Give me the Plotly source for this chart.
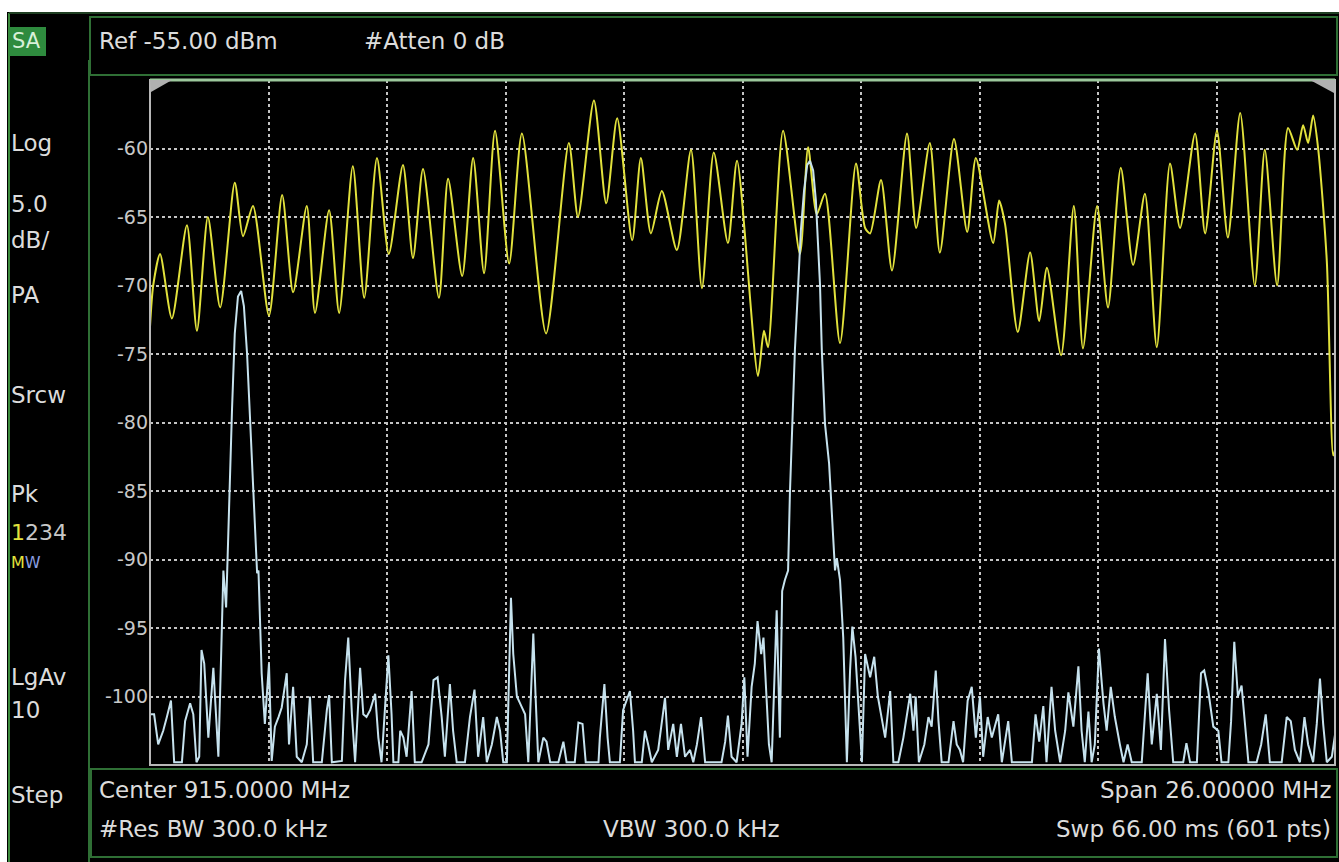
import plotly.graph_objects as go

# ---------------- data ----------------
# Trace 1 (yellow, max hold) : frequency in MHz, level in dBm
t1_freq = [902.00, 902.07, 902.22, 902.48, 902.81, 903.03, 903.27, 903.54, 903.86, 904.04,
           904.26, 904.61, 904.90, 905.14, 905.44, 905.62, 905.93, 906.15, 906.45, 906.70,
           906.98, 907.24, 907.55, 907.77, 907.99, 908.34, 908.54, 908.85, 909.09, 909.33,
           909.57, 909.88, 910.16, 910.69, 911.19, 911.39, 911.74, 912.01, 912.25, 912.58,
           912.77, 912.99, 913.23, 913.56, 913.87, 914.11, 914.37, 914.68, 914.88, 915.34,
           915.47, 915.56, 915.89, 916.26, 916.44, 916.63, 916.81, 917.14, 917.49, 917.69,
           917.80, 918.04, 918.28, 918.61, 918.81, 919.11, 919.33, 919.64, 919.93, 920.12,
           920.50, 920.63, 920.76, 921.04, 921.31, 921.51, 921.68, 921.99, 922.27, 922.47,
           922.78, 923.02, 923.30, 923.57, 923.83, 924.09, 924.38, 924.60, 924.93, 925.15,
           925.41, 925.65, 925.92, 926.24, 926.46, 926.73, 926.97, 927.17, 927.30, 927.41,
           927.52, 927.63, 927.82, 927.96, 928.00]
t1_dbm = [-73.0, -70.0, -67.7, -72.4, -65.6, -73.3, -65.0, -71.6, -62.5, -66.4,
          -64.2, -72.2, -63.4, -70.5, -64.2, -72.0, -64.5, -72.0, -61.3, -70.9,
          -60.7, -67.7, -61.2, -68.0, -61.5, -70.9, -62.2, -69.3, -60.7, -69.1,
          -58.7, -68.4, -58.9, -73.5, -59.6, -65.0, -56.5, -64.0, -57.8, -66.7,
          -60.7, -66.2, -63.1, -67.4, -60.1, -70.2, -60.3, -66.9, -60.9, -76.6,
          -73.3, -74.5, -58.7, -67.7, -59.9, -64.8, -63.3, -74.2, -61.1, -65.8,
          -66.2, -62.3, -68.9, -58.9, -65.8, -59.6, -67.6, -59.3, -66.1, -60.7,
          -66.9, -63.8, -65.5, -73.4, -67.6, -72.6, -68.7, -75.1, -64.2, -74.6,
          -64.2, -71.6, -61.4, -68.5, -63.3, -74.5, -61.1, -65.8, -58.9, -66.2,
          -58.7, -66.5, -57.4, -70.0, -60.1, -70.0, -58.5, -60.1, -58.3, -59.6,
          -57.6, -60.0, -68.2, -82.4, -82.0]

# Trace 2 (light blue, clear/write)
t2_freq = [902.00, 902.09, 902.18, 902.29, 902.37, 902.46, 902.53, 902.70, 902.77, 902.88,
           902.95, 903.02, 903.08, 903.13, 903.19, 903.28, 903.39, 903.46, 903.50, 903.56,
           903.61, 903.67, 903.73, 903.80, 903.86, 903.93, 904.00, 904.06, 904.13, 904.19,
           904.28, 904.35, 904.38, 904.45, 904.52, 904.61, 904.67, 904.74, 904.82, 904.89,
           905.00, 905.05, 905.14, 905.22, 905.33, 905.44, 905.51, 905.58, 905.77, 905.88,
           905.93, 905.99, 906.21, 906.28, 906.35, 906.43, 906.50, 906.61, 906.68, 906.75,
           906.83, 906.94, 907.01, 907.08, 907.23, 907.30, 907.34, 907.45, 907.49, 907.56,
           907.63, 907.74, 907.81, 907.96, 908.11, 908.22, 908.31, 908.40, 908.47, 908.58,
           908.65, 908.73, 908.91, 909.02, 909.12, 909.20, 909.31, 909.39, 909.50, 909.61,
           909.68, 909.75, 909.83, 909.92, 909.97, 910.05, 910.12, 910.23, 910.30, 910.41,
           910.46, 910.52, 910.63, 910.70, 910.78, 910.96, 911.07, 911.14, 911.32, 911.40,
           911.49, 911.56, 911.84, 911.87, 911.97, 912.04, 912.09, 912.31, 912.38, 912.53,
           912.60, 912.64, 912.79, 912.86, 912.93, 913.01, 913.15, 913.23, 913.30, 913.37,
           913.48, 913.56, 913.65, 913.74, 913.85, 913.92, 914.00, 914.09, 914.18, 914.54,
           914.62, 914.68, 914.76, 914.87, 914.98, 915.04, 915.11, 915.20, 915.27, 915.33,
           915.41, 915.46, 915.53, 915.58, 915.64, 915.70, 915.75, 915.82, 915.87, 915.93,
           916.00, 916.04, 916.09, 916.15, 916.22, 916.28, 916.35, 916.42, 916.48, 916.55,
           916.61, 916.66, 916.70, 916.74, 916.81, 916.90, 916.96, 917.03, 917.07, 917.14,
           917.21, 917.25, 917.29, 917.36, 917.41, 917.48, 917.54, 917.62, 917.69, 917.80,
           917.89, 917.97, 918.05, 918.13, 918.24, 918.31, 918.42, 918.53, 918.68, 918.75,
           918.80, 918.87, 918.99, 919.08, 919.15, 919.24, 919.30, 919.37, 919.52, 919.63,
           919.70, 919.77, 919.84, 919.94, 920.03, 920.12, 920.21, 920.28, 920.38, 920.47,
           920.61, 920.69, 920.83, 920.91, 921.35, 921.43, 921.51, 921.60, 921.67, 921.78,
           921.86, 921.97, 922.08, 922.15, 922.26, 922.37, 922.44, 922.51, 922.59, 922.66,
           922.73, 922.82, 922.92, 922.99, 923.08, 923.17, 923.28, 923.36, 923.45, 923.54,
           923.76, 923.83, 923.89, 923.98, 924.09, 924.18, 924.27, 924.36, 924.45, 924.67,
           924.74, 924.82, 924.97, 925.06, 925.13, 925.22, 925.33, 925.44, 925.51, 925.66,
           925.72, 925.79, 925.87, 925.95, 926.03, 926.10, 926.28, 926.38, 926.48, 926.57,
           926.83, 926.94, 927.03, 927.12, 927.23, 927.33, 927.41, 927.52, 927.60, 927.67,
           927.74, 927.82, 927.93, 928.00]
t2_dbm = [-101.3, -101.3, -103.5, -102.5, -101.5, -100.3, -104.8, -104.8, -101.8, -100.5,
          -101.3, -104.8, -104.4, -96.6, -97.6, -103.0, -97.9, -101.5, -104.4, -97.1,
          -90.8, -93.5, -86.0, -79.0, -73.5, -70.8, -70.4, -71.5, -75.0, -79.5,
          -86.0, -91.0, -90.8, -98.3, -102.0, -97.6, -104.7, -102.2, -101.5, -100.8,
          -98.3, -103.5, -99.3, -104.4, -104.8, -103.5, -100.0, -104.8, -104.8, -101.0,
          -99.9, -104.8, -104.7, -98.8, -95.7, -101.3, -104.8, -97.9, -101.3, -101.5,
          -101.0, -99.8, -103.0, -104.8, -97.0, -101.3, -104.8, -104.8, -102.5, -103.0,
          -104.4, -99.6, -104.8, -104.8, -103.5, -98.8, -98.6, -101.5, -104.4, -99.1,
          -102.5, -104.8, -104.8, -101.5, -99.5, -104.4, -101.5, -104.8, -103.5, -101.5,
          -102.5, -104.8, -104.8, -92.8, -96.9, -100.0, -100.5, -101.3, -104.8, -95.4,
          -100.0, -104.8, -103.0, -103.3, -104.8, -104.8, -103.3, -104.8, -104.8, -101.9,
          -102.0, -104.8, -104.8, -103.0, -99.1, -103.0, -104.8, -104.8, -101.0, -99.6,
          -102.5, -104.8, -104.8, -102.5, -103.5, -104.8, -103.9, -102.0, -100.1, -103.9,
          -102.0, -104.4, -102.0, -104.4, -103.9, -104.8, -103.5, -101.5, -104.8, -104.8,
          -103.3, -101.4, -104.4, -104.8, -102.0, -98.6, -104.4, -99.3, -97.6, -94.5,
          -96.9, -95.7, -100.0, -103.5, -104.8, -99.3, -93.7, -103.0, -92.3, -91.5,
          -90.8, -85.2, -80.1, -74.7, -70.1, -66.0, -63.1, -61.2, -60.9, -61.6,
          -63.8, -67.4, -69.9, -74.7, -80.1, -83.0, -86.4, -90.8, -89.9, -91.5,
          -95.7, -100.5, -104.8, -98.1, -94.9, -97.1, -100.5, -104.8, -96.9, -98.6,
          -97.1, -100.0, -101.5, -103.0, -99.6, -104.8, -104.8, -103.0, -99.8, -102.5,
          -100.0, -104.8, -103.5, -101.5, -102.2, -98.1, -101.8, -104.8, -104.8, -101.8,
          -103.5, -103.9, -104.8, -100.3, -99.3, -103.0, -100.0, -104.4, -101.5, -103.0,
          -101.3, -104.8, -101.8, -104.8, -104.8, -101.3, -103.3, -100.7, -104.8, -99.3,
          -102.5, -104.8, -102.5, -99.7, -102.2, -97.8, -102.5, -104.8, -101.1, -104.8,
          -103.5, -96.5, -100.5, -102.5, -99.3, -101.5, -103.5, -104.8, -103.5, -104.8,
          -104.8, -101.0, -98.3, -103.5, -99.8, -103.9, -95.8, -101.0, -104.8, -104.8,
          -103.4, -104.8, -104.8, -98.3, -98.1, -99.6, -102.2, -102.5, -104.8, -104.8,
          -101.8, -96.0, -100.0, -99.2, -102.5, -104.8, -104.8, -103.5, -101.3, -104.8,
          -104.8, -101.5, -101.8, -103.9, -104.8, -101.5, -103.5, -104.8, -102.0, -98.7,
          -102.0, -104.8, -104.4, -102.8]

y_ticks = [-60, -65, -70, -75, -80, -85, -90, -95, -100]
y_ticktext = ["-60", "-65", "-70", "-75", "-80", "-85", "-90", "-95", "-100"]

f_start, f_stop = 902.0, 928.0
ref_level, db_per_div, n_div = -55.0, 5.0, 10

side_labels = [("Log", 143), ("5.0", 204), ("dB/", 240), ("PA", 295), ("Srcw", 395),
               ("Pk", 494), ("LgAv", 677), ("10", 710), ("Step", 795)]

# ---------------- layout helpers (screen pixel -> paper) ----------------
W, H = 1339, 862
PLOT_L, PLOT_R, PLOT_T, PLOT_B = 150, 1335, 80, 765
L, R, T, B = PLOT_L, W - PLOT_R, PLOT_T, H - PLOT_B
PW, PH = W - L - R, H - T - B


def X(px):
    return (px - PLOT_L) / PW


def Y(py):
    return (PLOT_B - py) / PH


TXT = "#dcdcdc"
GREEN = "#2f6f35"
YEL = "#e2e23c"
BLUE = "#c6e2ee"
FONT = "DejaVu Sans"

fig = go.Figure()
fig.add_trace(go.Scatter(x=t1_freq, y=t1_dbm, mode="lines",
                         line=dict(color=YEL, width=2, shape="spline", smoothing=0.7),
                         hoverinfo="skip"))
fig.add_trace(go.Scatter(x=t2_freq, y=t2_dbm, mode="lines",
                         line=dict(color=BLUE, width=2),
                         hoverinfo="skip"))

shapes = []
# white margin at top and left
shapes.append(dict(type="rect", xref="paper", yref="paper", x0=X(0), x1=X(W), y0=Y(0), y1=Y(12),
                   fillcolor="white", line=dict(width=0), layer="below"))
shapes.append(dict(type="rect", xref="paper", yref="paper", x0=X(0), x1=X(7), y0=Y(0), y1=Y(H),
                   fillcolor="white", line=dict(width=0), layer="below"))
# outer frame and panels (green)
shapes.append(dict(type="line", xref="paper", yref="paper", x0=X(9), x1=X(9), y0=Y(13), y1=Y(H),
                   line=dict(color="#3c8a3c", width=2), layer="below"))
shapes.append(dict(type="line", xref="paper", yref="paper", x0=X(9), x1=X(W), y0=Y(13), y1=Y(13),
                   line=dict(color="#1f3f22", width=2), layer="below"))
shapes.append(dict(type="line", xref="paper", yref="paper", x0=X(89), x1=X(89), y0=Y(60), y1=Y(H),
                   line=dict(color=GREEN, width=2), layer="below"))
# header box
shapes.append(dict(type="rect", xref="paper", yref="paper", x0=X(90), x1=X(1337), y0=Y(17), y1=Y(75),
                   line=dict(color=GREEN, width=2), layer="below"))
# footer box
shapes.append(dict(type="rect", xref="paper", yref="paper", x0=X(91), x1=X(1337), y0=Y(769), y1=Y(857),
                   line=dict(color=GREEN, width=2), layer="below"))
# SA box
shapes.append(dict(type="rect", xref="paper", yref="paper", x0=X(9), x1=X(46), y0=Y(27), y1=Y(56),
                   fillcolor="#2e8b3e", line=dict(width=0), layer="below"))
# graticule border
shapes.append(dict(type="rect", xref="paper", yref="paper", x0=0, x1=1, y0=0, y1=1,
                   line=dict(color="#b8b8b8", width=2), layer="above"))
shapes.append(dict(type="line", xref="paper", yref="paper", x0=0, x1=1, y0=1, y1=1,
                   line=dict(color="#9cc89c", width=3), layer="above"))
# corner markers
shapes.append(dict(type="path", xref="paper", yref="paper",
                   path=f"M {X(150)} {Y(80)} L {X(172)} {Y(80)} L {X(151)} {Y(92)} Z",
                   fillcolor="#b0b0b0", line=dict(width=0), layer="above"))
shapes.append(dict(type="path", xref="paper", yref="paper",
                   path=f"M {X(1335)} {Y(80)} L {X(1310)} {Y(80)} L {X(1334)} {Y(93)} Z",
                   fillcolor="#b0b0b0", line=dict(width=0), layer="above"))

ann = []


def txt(s, px, py, size=23, color=TXT, anchor="left"):
    ann.append(dict(text=s, x=X(px), y=Y(py), xref="paper", yref="paper", showarrow=False,
                    xanchor=anchor, yanchor="middle",
                    font=dict(family=FONT, size=size, color=color)))


txt("SA", 10, 41, size=21, color="#d8f0d8")
txt("Ref -55.00 dBm", 97, 41)
txt("#Atten 0 dB", 362, 41)
for s, py in side_labels:
    txt(s, 9, py)
txt(f'<span style="color:{YEL}">1</span>234', 9, 532, size=22, color="#c8c8c8")
txt(f'<span style="color:{YEL}">M</span><span style="color:#8a9ee0">W</span>', 9, 562, size=16)
txt("Center 915.0000 MHz", 97, 790)
txt("#Res BW 300.0 kHz", 97, 829)
txt("VBW 300.0 kHz", 601, 829)
txt("Span 26.00000 MHz", 1333, 790, anchor="right")
txt("Swp 66.00 ms (601 pts)", 1333, 829, anchor="right")

fig.update_layout(
    width=W, height=H,
    margin=dict(l=L, r=R, t=T, b=B, pad=0),
    paper_bgcolor="black", plot_bgcolor="black",
    showlegend=False,
    shapes=shapes, annotations=ann,
    xaxis=dict(range=[f_start, f_stop], tick0=f_start, dtick=(f_stop - f_start) / n_div,
               showticklabels=False, ticks="", showgrid=True, gridcolor="#c4c4c4",
               griddash="dot", gridwidth=1.5, zeroline=False, showline=False, fixedrange=True),
    yaxis=dict(range=[ref_level - n_div * db_per_div, ref_level], tickmode="array",
               tickvals=y_ticks, ticktext=y_ticktext, ticks="", showgrid=True,
               gridcolor="#c4c4c4", griddash="dot", gridwidth=1.5, zeroline=False,
               showline=False, ticklabelstandoff=1,
               tickfont=dict(family=FONT, size=19, color="#c8c8c8"), fixedrange=True),
)

# remove the default page margin so the figure fills the window exactly
fig.write_html("out.html",
               config={"displayModeBar": False},
               post_script="document.body.style.margin='0px';"
                           "document.body.style.overflow='hidden';")
